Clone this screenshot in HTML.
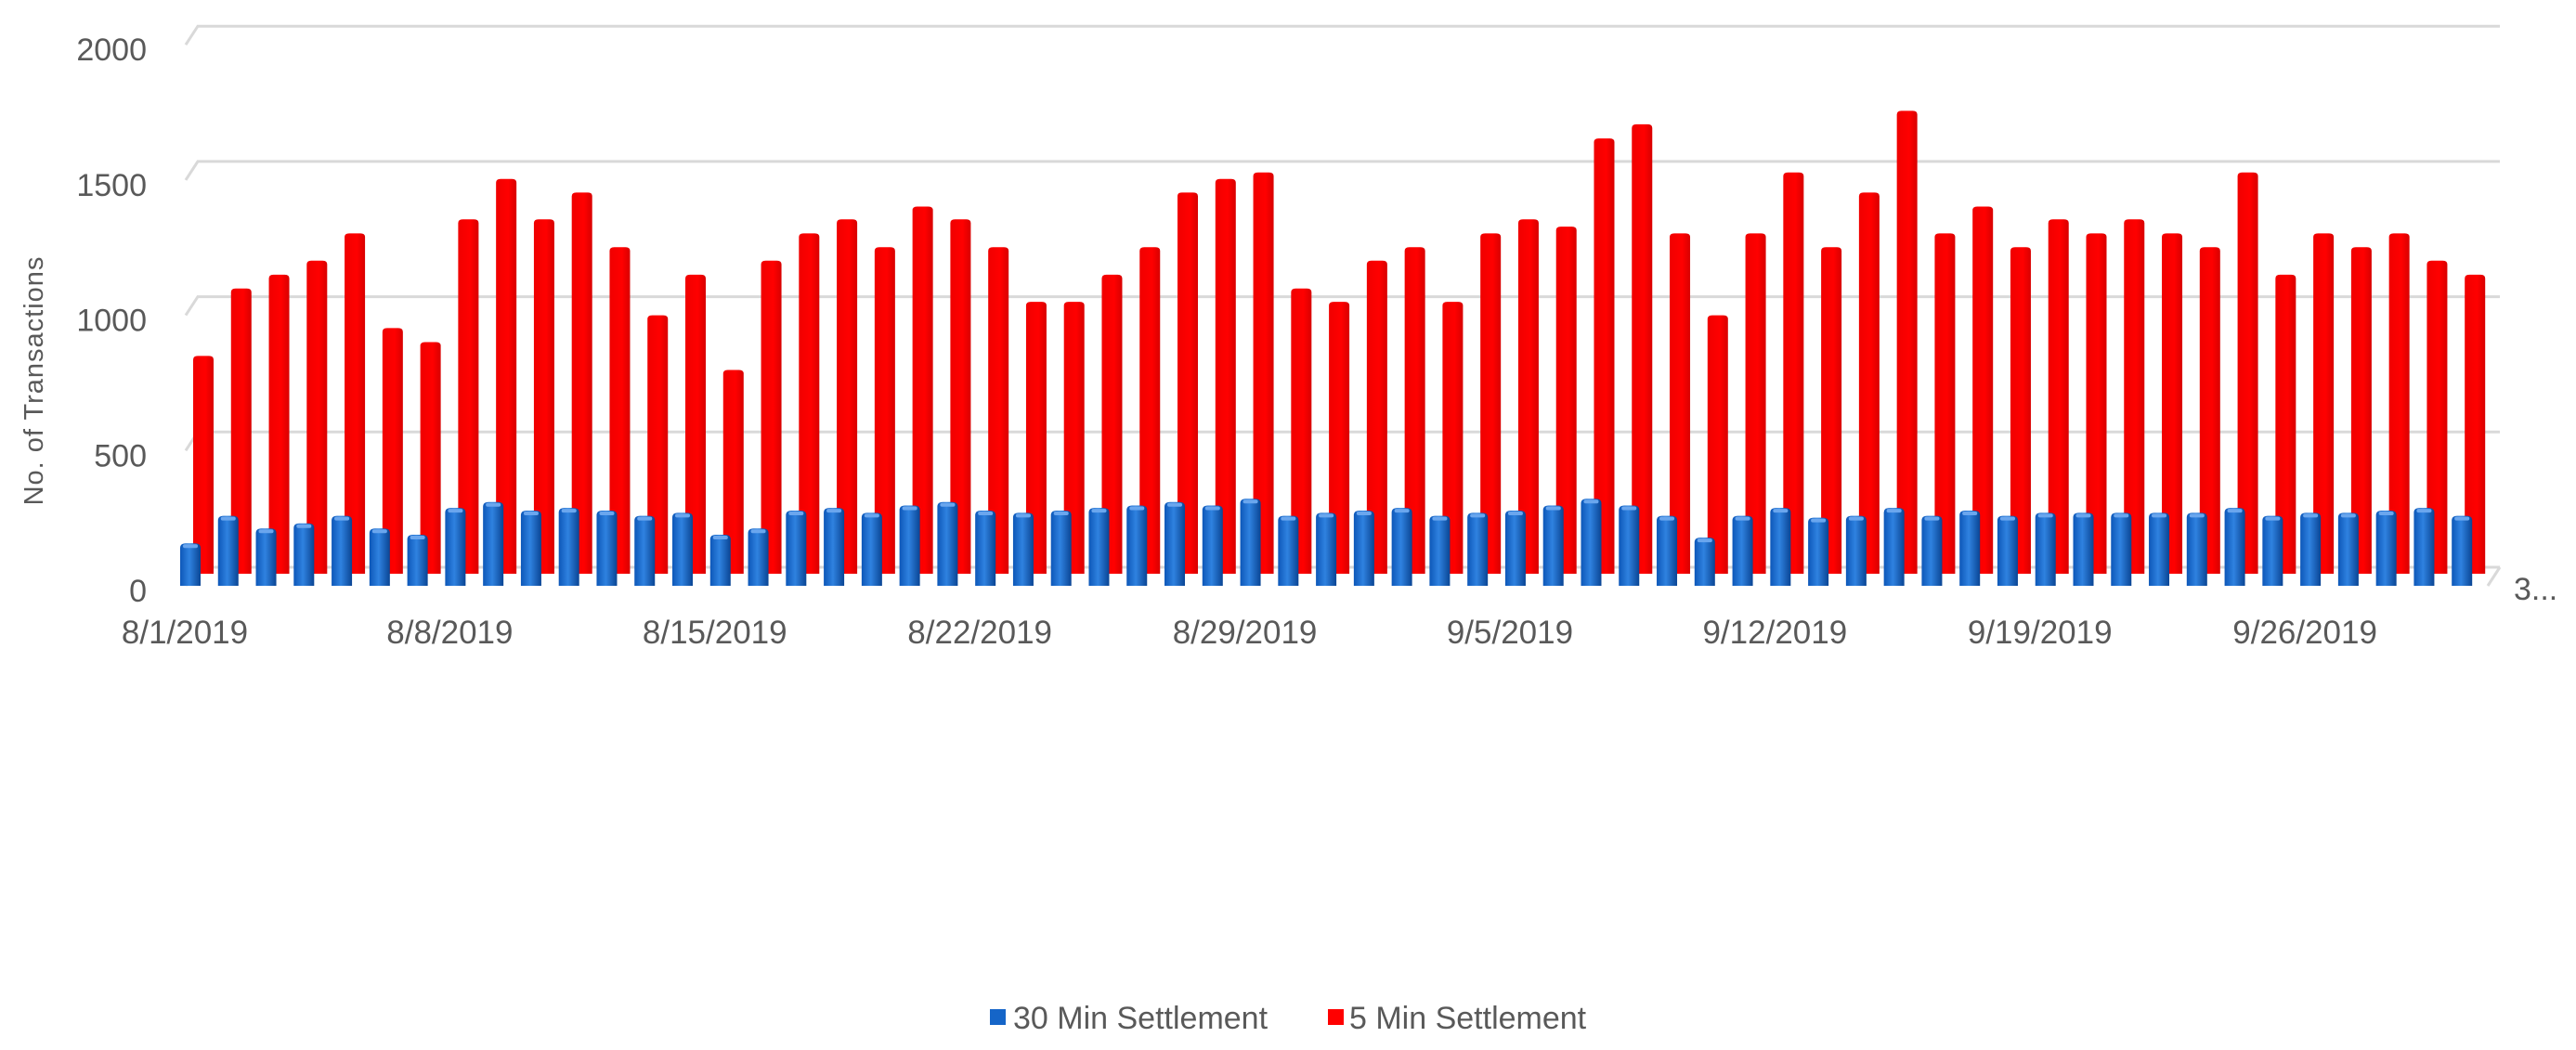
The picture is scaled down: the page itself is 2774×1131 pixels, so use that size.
<!DOCTYPE html>
<html><head><meta charset="utf-8"><style>
html,body{margin:0;padding:0;background:#fff;}
svg{display:block;font-family:"Liberation Sans",sans-serif;}
</style></head><body>
<svg id="chart" width="2774" height="1131" viewBox="0 0 2774 1131" xmlns="http://www.w3.org/2000/svg">
<defs>
<linearGradient id="blueG" x1="0" x2="1" y1="0" y2="0">
<stop offset="0" stop-color="#0d57b8"/><stop offset="0.45" stop-color="#2f82e0"/><stop offset="1" stop-color="#0a4594"/>
</linearGradient>
<linearGradient id="redG" x1="0" x2="1" y1="0" y2="0">
<stop offset="0" stop-color="#f00000"/><stop offset="0.6" stop-color="#ff0000"/><stop offset="1" stop-color="#d80000"/>
</linearGradient>
</defs>
<g id="grid"></g>
<g id="yticks"></g>
<g id="redBars"></g>
<g id="blueBars"></g>
<g id="xticks"></g>
<text transform="translate(46,410) rotate(-90)" text-anchor="middle" font-size="29" fill="#595959" letter-spacing="1">No. of Transactions</text>
<text x="2707" y="646" font-size="34" fill="#595959">3...</text>
<g>
<rect x="1066" y="1087" width="17" height="17" fill="#1565c8"/>
<text x="1091" y="1108" font-size="34" fill="#595959">30 Min Settlement</text>
<rect x="1430" y="1087" width="17" height="17" fill="#ff0000"/>
<text x="1453" y="1108" font-size="34" fill="#595959">5 Min Settlement</text>
</g>
</svg>
<script>
const min5 = [867,1116,1167,1219,1320,970,918,1372,1521,1372,1471,1269,1017,1167,815,1219,1320,1372,1269,1419,1372,1269,1067,1067,1167,1269,1471,1521,1545,
1116,1067,1219,1269,1067,1320,1372,1345,1671,1723,1320,1017,1320,1545,1269,1471,1773,1320,1419,1269,1372,1320,1372,1320,1269,1545,1167,1320,1269,1320,1219,1167];
const min30 = [174,276,229,248,276,229,206,305,327,295,305,295,276,287,206,229,295,305,287,314,327,295,287,295,305,314,327,314,339,
276,287,295,305,276,287,295,314,339,314,276,195,276,305,269,276,305,276,295,276,287,287,287,287,287,305,276,287,287,295,305,276];
const yTicks = [0,500,1000,1500,2000];
const xLabels = ["8/1/2019","8/8/2019","8/15/2019","8/22/2019","8/29/2019","9/5/2019","9/12/2019","9/19/2019","9/26/2019"];
const xLabelIdx = [0,7,14,21,28,35,42,49,56];

const NS="http://www.w3.org/2000/svg";
function mk(tag,attrs,parent){const e=document.createElementNS(NS,tag);for(const k in attrs)e.setAttribute(k,attrs[k]);parent.appendChild(e);return e;}
const yv = v => 636 - v*0.2914;
const xc = i => 205 + i*40.77;
const grid=document.getElementById('grid'), yt=document.getElementById('yticks');
yTicks.forEach(t=>{
  const gy = yv(t)-25;
  const l=mk('path',{d:`M200 ${gy+20} L213 ${gy} L2692 ${gy}`,stroke:'#d9d9d9','stroke-width':3,fill:'none'},grid);
  
  
  const tx=mk('text',{x:158,y:yv(t)+12,'text-anchor':'end','font-size':34,fill:'#595959'},yt);
  tx.textContent=t;
  
  
});
const fl=mk('path',{d:'M2692 611 L2679 631',stroke:'#d9d9d9','stroke-width':3,fill:'none'},grid);


const rg=document.getElementById('redBars'), bg=document.getElementById('blueBars');
min5.forEach((v,i)=>{
  const x=xc(i)+14-11, top=yv(v);
  const r=mk('path',{d:`M${x} 618 L${x} ${top+4} Q${x} ${top} ${x+5} ${top} L${x+17} ${top} Q${x+22} ${top} ${x+22} ${top+4} L${x+22} 618 Z`,fill:'url(#redG)'},rg);
  
  
});
min30.forEach((v,i)=>{
  const x=xc(i)-11, top=yv(v);
  const b=mk('path',{d:`M${x} 631 L${x} ${top+5} Q${x} ${top} ${x+6} ${top} L${x+16} ${top} Q${x+22} ${top} ${x+22} ${top+5} L${x+22} 631 Z`,fill:'url(#blueG)'},bg);
  
  
  const c=mk('rect',{x:x+3,y:top+1,width:16,height:4,rx:2,fill:'#6aa6ee'},bg);
  
  
});
const xt=document.getElementById('xticks');
xLabels.forEach((s,k)=>{
  const t=mk('text',{x:xc(xLabelIdx[k])-6,y:693,'text-anchor':'middle','font-size':35,fill:'#595959'},xt);
  t.textContent=s;
  
  
});
</script>
</body></html>
